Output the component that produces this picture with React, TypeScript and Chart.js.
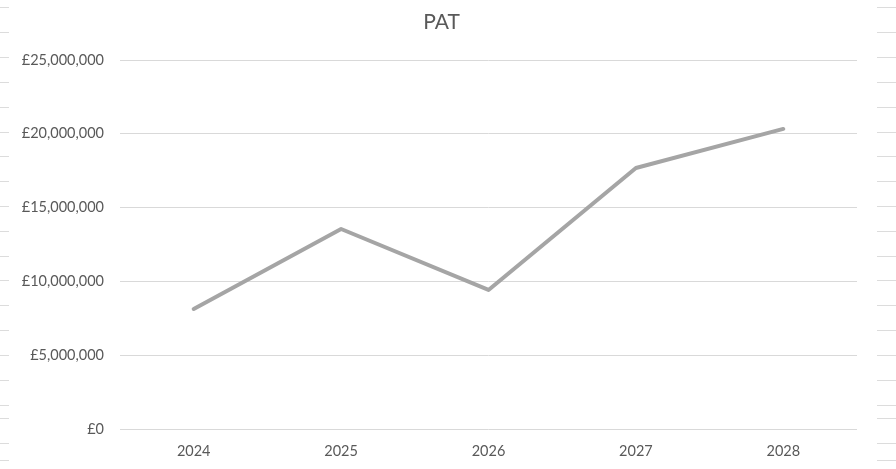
import React, { useEffect, useRef } from "react";
import { Chart, registerables } from "chart.js";

Chart.register(...registerables);

const categories = ["2024", "2025", "2026", "2027", "2028"];
const patValues = [8130000, 13550000, 9420000, 17680000, 20330000];
const yTicks = [0, 5000000, 10000000, 15000000, 20000000, 25000000];
const sheetRowLines = [7, 32, 57, 82, 107, 132, 156, 181, 206, 231, 256, 280, 305, 330, 355, 380, 405, 418, 443, 460];

const fmt = (v: number) => "£" + v.toLocaleString("en-GB");

const sheetLinesPlugin = {
  id: "sheetLines",
  beforeDraw(chart: any) {
    const ctx = chart.ctx;
    const w = chart.width;
    ctx.save();
    ctx.fillStyle = "#ffffff";
    ctx.fillRect(0, 0, w, chart.height);
    ctx.strokeStyle = "#dcdcdc";
    ctx.lineWidth = 1;
    sheetRowLines.forEach((y) => {
      ctx.beginPath();
      ctx.moveTo(0, y + 0.5);
      ctx.lineTo(9, y + 0.5);
      ctx.moveTo(877, y + 0.5);
      ctx.lineTo(w, y + 0.5);
      ctx.stroke();
    });
    ctx.restore();
  },
};

export default function App() {
  const ref = useRef<HTMLCanvasElement | null>(null);
  useEffect(() => {
    document.body.style.margin = "0";
    const chart = new Chart(ref.current as HTMLCanvasElement, {
      type: "line",
      data: {
        labels: categories,
        datasets: [
          {
            label: "PAT",
            data: patValues,
            borderColor: "#a5a5a5",
            borderWidth: 4,
            borderCapStyle: "round",
            borderJoinStyle: "round",
            pointRadius: 0,
            tension: 0,
            fill: false,
            yAxisID: "y",
          },
        ],
      },
      options: {
        responsive: false,
        animation: false,
        layout: { padding: { left: 0, right: 13, top: 0, bottom: 0 } },
        plugins: {
          legend: { display: false },
          tooltip: { enabled: false },
          title: {
            display: true,
            text: "PAT",
            color: "#595959",
            font: { family: "Lato", size: 21, weight: "normal" },
            padding: { top: 9.5, bottom: 25.3 },
          },
        },
        scales: {
          x: {
            offset: true,
            grid: { display: false, drawTicks: false },
            border: { display: false },
            ticks: {
              color: "#595959",
              font: { family: "Lato", size: 14.5 },
              padding: 14,
              maxRotation: 0,
            },
            afterFit: (s: any) => {
              s.height = 40;
            },
          },
          y: {
            min: 0,
            max: 25000000,
            afterBuildTicks: (s: any) => {
              s.ticks = yTicks.map((v) => ({ value: v }));
            },
            grid: { color: "#d9d9d9", lineWidth: 1, drawTicks: false },
            border: { display: false },
            ticks: {
              color: "#595959",
              font: { family: "Lato", size: 14.5 },
              padding: 16,
              callback: (v: any) => fmt(Number(v)),
            },
            afterFit: (s: any) => {
              s.width = 120;
            },
          },
          yRight: {
            position: "right",
            min: 0,
            max: 25000000,
            grid: { display: false, drawTicks: false },
            border: { display: false },
            ticks: { display: false },
            afterFit: (s: any) => {
              s.width = 26;
            },
          },
        },
      },
      plugins: [sheetLinesPlugin],
    } as any);
    return () => chart.destroy();
  }, []);
  return <canvas ref={ref} width={896} height={469} style={{ display: "block" }} />;
}
